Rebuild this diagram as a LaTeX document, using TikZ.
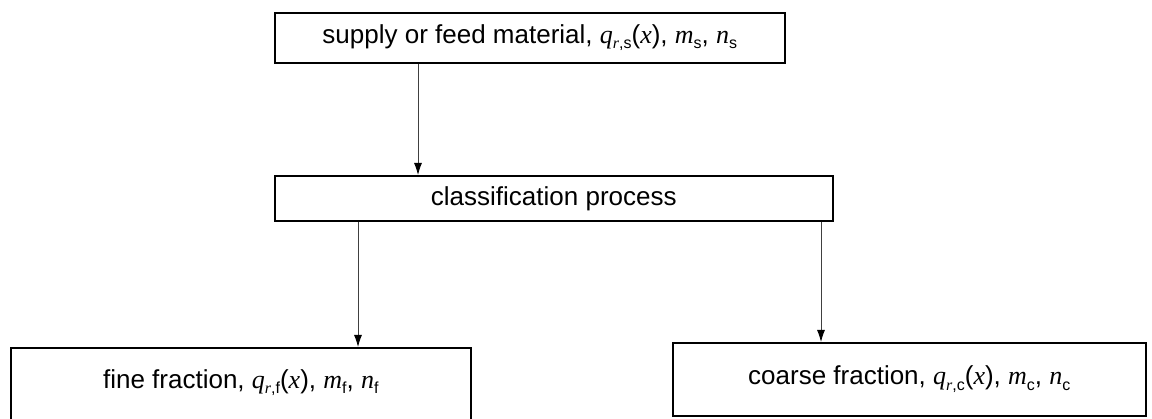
\documentclass[tikz,border=0pt]{standalone}
\usepackage{fontspec}
\setmainfont{Liberation Sans}
\newfontfamily\tmsfont{Liberation Serif}
\usetikzlibrary{positioning, arrows.meta}
\newcommand{\vsym}[1]{{\tmsfont\itshape #1}}
\newcommand{\lowidx}[1]{\raisebox{-0.4ex}{\fontsize{16}{16}\selectfont #1}}
\tikzset{
x=1pt, y=-1pt, % one unit is one pixel of the sketch
->, % makes the connectors directed
>={Latex[length=12pt, width=8pt, color=black]}, % narrow filled heads
flowbox/.style={draw, line width=1.6pt, anchor=north west, inner sep=0pt, font=\fontsize{26}{30}\selectfont},
flowline/.style={draw, line width=0.9pt, black!75},
}
\begin{document}
\begin{tikzpicture}
                \useasboundingbox (0,0) rectangle (1152,419);
                \node[flowbox, minimum width=510pt, minimum height=50pt] (feed) at (274,12)
                    {supply or feed material, \vsym{q}\lowidx{\vsym{r},s}(\vsym{x}), \vsym{m}\lowidx{s}, \vsym{n}\lowidx{s}};
                \node[flowbox, minimum width=558pt, minimum height=45pt] (classify) at (274,175) {classification process};
                \node[flowbox, minimum width=460pt, minimum height=76pt, text depth=14pt] (fine) at (10,347)
                    {fine fraction, \vsym{q}\lowidx{\vsym{r},f}(\vsym{x}), \vsym{m}\lowidx{f}, \vsym{n}\lowidx{f}};
                \node[flowbox, minimum width=473pt, minimum height=73pt] (coarse) at (672,342)
                    {coarse fraction, \vsym{q}\lowidx{\vsym{r},c}(\vsym{x}), \vsym{m}\lowidx{c}, \vsym{n}\lowidx{c}};
                \path (feed.south west) ++(144,0) coordinate (feedout);
                \path (classify.south west) ++(84,0) coordinate (fineout);
                \path (classify.south west) ++(547,0) coordinate (coarseout);
                \path
                    (feedout) edge[flowline] (feedout |- classify.north)
                    (fineout) edge[flowline] (fineout |- fine.north)
                    (coarseout) edge[flowline] (coarseout |- coarse.north)
                    ;
                \end{tikzpicture}
\end{document}
